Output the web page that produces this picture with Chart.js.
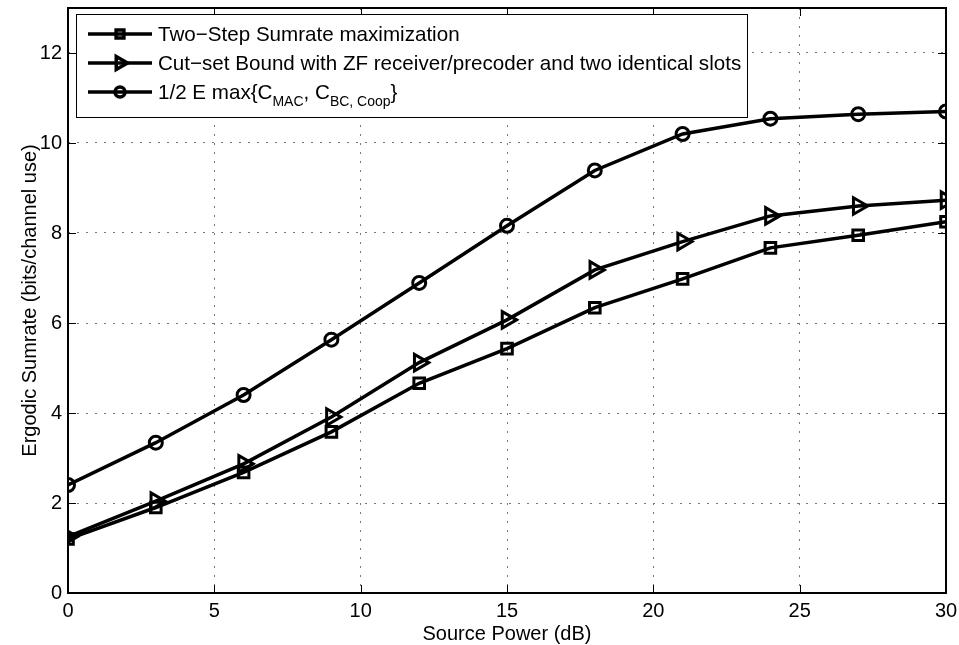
<!DOCTYPE html>
<html>
<head>
<meta charset="utf-8">
<script src="https://cdn.jsdelivr.net/npm/chart.js@4.4.0/dist/chart.umd.min.js"></script>
<style>
  html, body { margin: 0; padding: 0; background: #fff; }
  #wrap { width: 959px; height: 645px; }
</style>
</head>
<body>
<div id="wrap"><canvas id="sumrate" width="959" height="645"></canvas></div>
<script>
// source power in dB
const power = [0, 3, 6, 9, 12, 15, 18, 21, 24, 27, 30];
// ergodic sumrate, bits/channel use
const twoStep = [1.2, 1.9, 2.68, 3.58, 4.66, 5.43, 6.34, 6.98, 7.67, 7.95, 8.25];
const cutSet = [1.25, 2.04, 2.87, 3.91, 5.12, 6.07, 7.18, 7.81, 8.38, 8.6, 8.73];
const maxCoop = [2.4, 3.34, 4.4, 5.63, 6.89, 8.16, 9.39, 10.2, 10.54, 10.64, 10.7];
const xTicks = [0, 5, 10, 15, 20, 25, 30];
const yTicks = [0, 2, 4, 6, 8, 10, 12];

const FONT = 'Liberation Sans, Arial, Helvetica, sans-serif';

function toXY(ys) {
  return ys.map((y, i) => ({ x: power[i], y: y }));
}

// legend rows: text pieces, [string, isSubscript]
const legendRows = [
  [['Two\u2212Step Sumrate maximization', false]],
  [['Cut\u2212set Bound with ZF receiver/precoder and two identical slots', false]],
  [['1/2 E max{C', false], ['MAC', true], [', C', false], ['BC, Coop', true], ['}', false]]
];
// smaller markers for the legend
const legendMarks = [
  { pointStyle: 'rect', rotation: 0, radius: 5.5, borderWidth: 3 },
  { pointStyle: 'triangle', rotation: 90, radius: 7.5, borderWidth: 3 },
  { pointStyle: 'circle', rotation: 0, radius: 5, borderWidth: 3 }
];

// inward ticks on all four sides and the box around the plot
const boxPlugin = {
  id: 'boxPlugin',
  afterDatasetsDraw(chart) {
    const { ctx, chartArea: a, scales } = chart;
    const l = Math.round(a.left), r = Math.round(a.right);
    const t = Math.round(a.top), b = Math.round(a.bottom);
    ctx.save();
    ctx.strokeStyle = '#000';
    ctx.lineWidth = 1;
    ctx.beginPath();
    xTicks.forEach(v => {
      const px = Math.round(scales.x.getPixelForValue(v)) + 0.5;
      ctx.moveTo(px, b); ctx.lineTo(px, b - 8);
      ctx.moveTo(px, t); ctx.lineTo(px, t + 8);
    });
    yTicks.forEach(v => {
      const py = Math.round(scales.y.getPixelForValue(v)) + 0.5;
      ctx.moveTo(l, py); ctx.lineTo(l + 8, py);
      ctx.moveTo(r, py); ctx.lineTo(r - 8, py);
    });
    ctx.stroke();
    ctx.lineWidth = 2;
    ctx.strokeRect(l, t, r - l, b - t);
    ctx.restore();
  }
};

// legend with subscripts, drawn by hand
const legendPlugin = {
  id: 'legendPlugin',
  afterDraw(chart) {
    const { ctx, chartArea: a } = chart;
    const bx = Math.round(a.left) + 8, by = Math.round(a.top) + 6, bw = 671, bh = 103;
    ctx.save();
    ctx.fillStyle = '#fff';
    ctx.fillRect(bx, by, bw, bh);
    ctx.strokeStyle = '#000';
    ctx.lineWidth = 1;
    ctx.strokeRect(bx + 0.5, by + 0.5, bw, bh);
    legendRows.forEach((row, i) => {
      const cy = by + 20 + i * 29;
      ctx.strokeStyle = '#000';
      ctx.lineWidth = 3.5;
      ctx.beginPath();
      ctx.moveTo(bx + 12, cy); ctx.lineTo(bx + 76, cy);
      ctx.stroke();
      ctx.fillStyle = 'rgba(0,0,0,0)';
      Chart.helpers.drawPoint(ctx, legendMarks[i], bx + 44, cy);
      let tx = bx + 82;
      ctx.fillStyle = '#000';
      ctx.textBaseline = 'alphabetic';
      row.forEach(([s, sub]) => {
        ctx.font = (sub ? '14px ' : '20.6px ') + FONT;
        ctx.fillText(s, tx, sub ? cy + 14 : cy + 7);
        tx += ctx.measureText(s).width;
      });
    });
    ctx.restore();
  }
};

function series(label, values, style, radius, rotation) {
  return {
    label: label,
    data: toXY(values),
    borderColor: '#000',
    borderWidth: 3.5,
    pointStyle: style,
    pointRadius: radius,
    pointRotation: rotation,
    pointBorderWidth: 3,
    pointBorderColor: '#000',
    pointBackgroundColor: 'rgba(0,0,0,0)',
    tension: 0,
    fill: false
  };
}

// keep tick labels from pushing the plot area inward
function noLabelPadding(s) {
  s.paddingTop = 0; s.paddingBottom = 0;
  s.paddingLeft = 0; s.paddingRight = 0;
}

new Chart(document.getElementById('sumrate'), {
  type: 'line',
  data: {
    datasets: [
      series('Two-Step Sumrate maximization', twoStep, 'rect', 7.5, 0),
      series('Cut-set Bound with ZF receiver/precoder and two identical slots', cutSet, 'triangle', 9.5, 90),
      series('1/2 E max{C_MAC, C_BC,Coop}', maxCoop, 'circle', 6.5, 0)
    ]
  },
  options: {
    responsive: false,
    animation: false,
    layout: { autoPadding: false, padding: { top: 8, right: 13, left: 0, bottom: 0 } },
    plugins: {
      legend: { display: false },
      tooltip: { enabled: false }
    },
    scales: {
      x: {
        type: 'linear',
        min: 0, max: 30,
        afterFit(s) { s.height = 52; noLabelPadding(s); },
        afterBuildTicks(s) { s.ticks = xTicks.map(v => ({ value: v })); },
        ticks: { color: '#000', font: { family: FONT, size: 20 }, padding: 6, maxRotation: 0 },
        grid: { color: '#777', lineWidth: 1, drawTicks: false },
        border: { display: false, dash: [2, 7] },
        title: { display: true, text: 'Source Power (dB)', color: '#000',
          font: { family: FONT, size: 20, lineHeight: 1.05 }, padding: { top: 0, bottom: 0 } }
      },
      y: {
        min: 0, max: 13,
        afterFit(s) { s.width = 68; noLabelPadding(s); },
        afterBuildTicks(s) { s.ticks = yTicks.map(v => ({ value: v })); },
        ticks: { color: '#000', font: { family: FONT, size: 20 }, padding: 6 },
        grid: { color: '#777', lineWidth: 1, drawTicks: false },
        border: { display: false, dash: [2, 7] },
        title: { display: true, text: 'Ergodic Sumrate (bits/channel use)', color: '#000',
          font: { family: FONT, size: 20 }, padding: { top: 18, bottom: 0 } }
      }
    }
  },
  plugins: [boxPlugin, legendPlugin]
});
</script>
</body>
</html>
